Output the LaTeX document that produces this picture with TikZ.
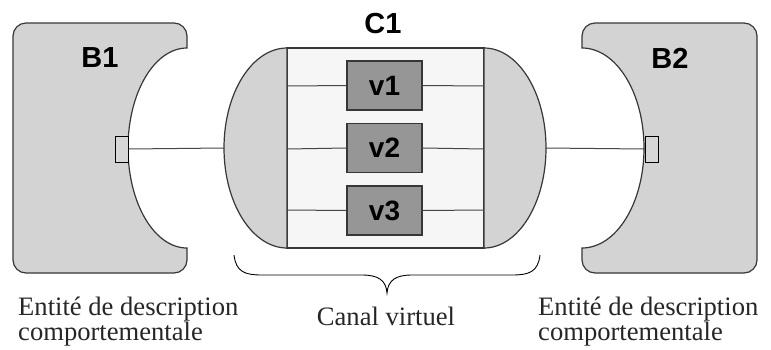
\documentclass[tikz,border=0pt]{standalone}
\usepackage{fontspec}
\setmainfont{Liberation Serif}
\newfontfamily\arialfont{Liberation Sans}
\definecolor{bgray}{RGB}{211,211,211}
\definecolor{vgray}{RGB}{150,150,150}
\definecolor{innerfill}{RGB}{246,246,246}
\definecolor{edgecol}{RGB}{55,55,55}
\definecolor{wirecol}{RGB}{70,70,70}
\tikzset{
  shapeline/.style={draw=edgecol, line width=1.2pt},
  wire/.style={draw=wirecol, line width=1pt},
  vbox/.style={draw=edgecol, line width=1.2pt, fill=vgray, minimum width=75pt, minimum height=49pt, inner sep=0pt,
    font=\arialfont\bfseries\fontsize{28}{28}\selectfont},
  port/.style={draw=black, line width=1pt, fill=bgray!90!white, minimum width=13pt, minimum height=26pt, inner sep=0pt},
  title/.style={inner sep=0pt, font=\arialfont\bfseries\fontsize{29}{29}\selectfont},
  caption/.style={inner sep=0pt, font=\fontsize{26.6}{26.6}\selectfont, text=black!85}
}
\begin{document}
\begin{tikzpicture}[x=1pt, y=-1pt]
\useasboundingbox (0,0) rectangle (771,349);

% B1 box with cutout
\path[shapeline, fill=bgray] (187,248) arc[start angle=90, end angle=270, x radius=59, y radius=100]
  -- (187,36) arc[start angle=0, end angle=-90, radius=13]
  -- (26,23) arc[start angle=-90, end angle=-180, radius=13]
  -- (13,260) arc[start angle=180, end angle=90, radius=13]
  -- (174,273) arc[start angle=90, end angle=0, radius=13]
  -- cycle;

% B2 box with cutout
\path[shapeline, fill=bgray] (582,48) arc[start angle=-90, end angle=90, x radius=62, y radius=100]
  -- (582,260) arc[start angle=180, end angle=90, radius=13]
  -- (744,273) arc[start angle=90, end angle=0, radius=13]
  -- (757,36) arc[start angle=0, end angle=-90, radius=13]
  -- (595,23) arc[start angle=-90, end angle=-180, radius=13]
  -- cycle;

% C1 channel
\path[shapeline, fill=innerfill] (287,48) rectangle (484,248);
\path[shapeline, fill=bgray] (287,48) arc[start angle=-90, end angle=-270, x radius=63, y radius=100] -- cycle;
\path[shapeline, fill=bgray] (484,48) arc[start angle=-90, end angle=90, x radius=62, y radius=100] -- cycle;

% labels
\node[title] (lb1) at (100,58) {B1};
\node[title] (lb2) at (670,58) {B2};
\node[title] (lc1) at (383,24) {C1};

% ports
\node[port] (p1) at (121.5,149) {};
\node[port] (p2) at (651.5,149) {};

% coordinates on C1
\coordinate (c1l) at (224,148);
\coordinate (c1r) at (546,148);
\coordinate (l1) at (287,86);  \coordinate (r1) at (484,86);
\coordinate (l2) at (287,149); \coordinate (r2) at (484,149);
\coordinate (l3) at (287,210); \coordinate (r3) at (484,210);

% virtual channels
\node[vbox] (v1) at (384.5,85.5) {v1};
\node[vbox] (v2) at (384.5,148) {v2};
\node[vbox] (v3) at (384.5,210.5) {v3};

\draw[wire] (l1) -- (v1.west);
\draw[wire] (v1.east) -- (r1);
\draw[wire] (l2) -- (v2.west);
\draw[wire] (v2.east) -- (r2);
\draw[wire] (l3) -- (v3.west);
\draw[wire] (v3.east) -- (r3);

% external connectors
\draw[wire] (p1.east) -- (c1l);
\draw[wire] (c1r) -- (p2.west);

% brace
\draw[black, line width=0.9pt] (234,255) .. controls (236,272) and (245,275) .. (262,275)
  -- (362,275) .. controls (378,275) and (386,280) .. (387,293)
  .. controls (388,280) and (396,275) .. (412,275)
  -- (512,275) .. controls (529,275) and (538,272) .. (540,255);

% captions
\node[caption, anchor=base west] (t1a) at (18,315) {Entité de description};
\node[caption, anchor=base west] (t1b) at (18,340) {comportementale};
\node[caption, anchor=base] (t2) at (386,325) {Canal virtuel};
\node[caption, anchor=base west] (t3a) at (538,315) {Entité de description};
\node[caption, anchor=base west] (t3b) at (538,340) {comportementale};
\end{tikzpicture}
\end{document}
